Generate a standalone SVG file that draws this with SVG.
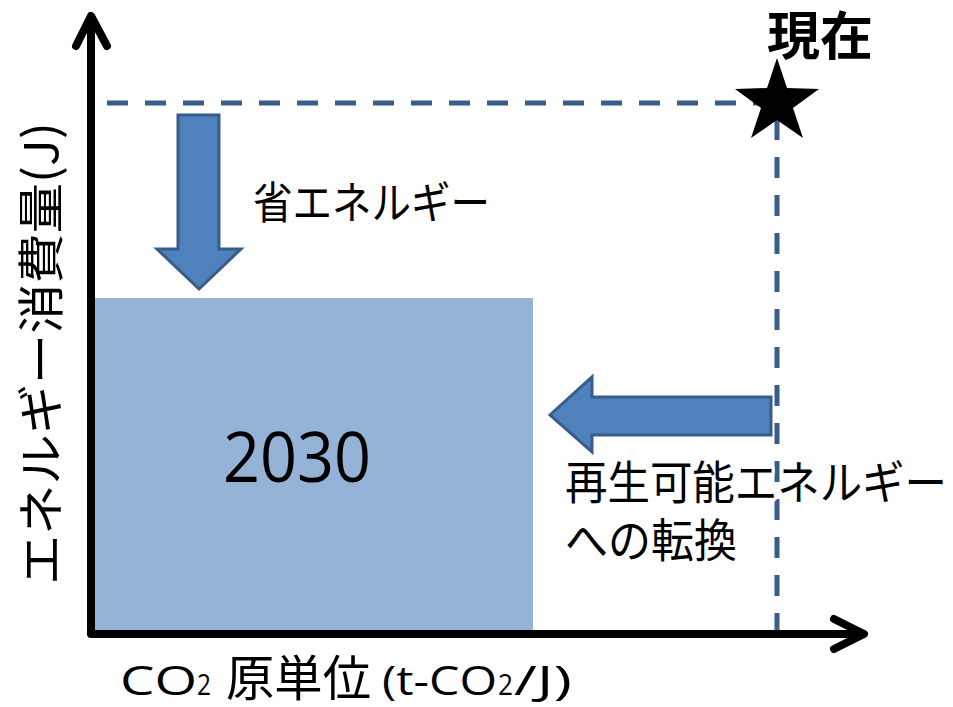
<svg xmlns="http://www.w3.org/2000/svg" width="953" height="707" viewBox="0 0 953 707">
  <style>
    .jp { font-family: "Noto Sans CJK JP", "Noto Sans", sans-serif; fill: #000; }
    .lat { font-family: "Open Sans", "Noto Sans", sans-serif; fill: #000; }
    .axis { stroke: #000; stroke-width: 8; fill: none; stroke-linecap: round; stroke-linejoin: round; }
    .dash { stroke: #385D8A; stroke-width: 5; fill: none; stroke-dasharray: 21 17; }
    .barrow { fill: #4F81BD; stroke: #385D8A; stroke-width: 3; stroke-linejoin: miter; }
    .halo { stroke: #fff; stroke-width: 7; stroke-opacity: 0.85; paint-order: stroke; stroke-linejoin: round; }
  </style>
  <rect width="953" height="707" fill="#fff"/>

  <g id="box-2030">
    <rect x="95" y="298" width="438" height="332" fill="#95B3D7"/>
    <text class="lat" x="297" y="482" font-size="70" text-anchor="middle" textLength="148" lengthAdjust="spacingAndGlyphs">2030</text>
  </g>

  <g id="connectors">
    <line class="dash" x1="107" y1="103" x2="777" y2="103"/>
    <line class="dash" x1="777" y1="119" x2="777" y2="633"/>
  </g>

  <g id="axes">
    <line class="axis" x1="91" y1="633" x2="91" y2="17"/>
    <polyline class="axis" points="76,46 91,16 107,46"/>
    <line class="axis" x1="91" y1="634" x2="863" y2="634"/>
    <polyline class="axis" points="834,619 864,634 834,649"/>
  </g>

  <g id="now-star">
    <polygon fill="#000" points="777,58 787,88 819,89 793,108 803,138 777,120 751,138 761,108 735,89 767,88"/>
    <text class="jp" x="820" y="55" font-size="52" font-weight="bold" text-anchor="middle" textLength="106" lengthAdjust="spacingAndGlyphs">現在</text>
  </g>

  <g id="energy-saving">
    <polygon class="barrow" points="178,115 219,115 219,249 241,249 199,289 157,249 178,249"/>
    <text class="jp" x="253" y="219" font-size="44" textLength="237" lengthAdjust="spacingAndGlyphs">省エネルギー</text>
  </g>

  <g id="renewable-shift">
    <polygon class="barrow" points="771,397 592,397 592,377 550,415 592,452 592,435 771,435"/>
    <text class="jp halo" x="565" y="499" font-size="46" textLength="382" lengthAdjust="spacingAndGlyphs">再生可能エネルギー</text>
    <text class="jp halo" x="565" y="557" font-size="46" textLength="172" lengthAdjust="spacingAndGlyphs">への転換</text>
  </g>

  <g id="y-label">
    <text class="jp" transform="translate(58,585) rotate(-90)" x="0" y="0" font-size="47" textLength="463" lengthAdjust="spacingAndGlyphs">エネルギー消費量(J)</text>
  </g>

  <g id="x-label">
    <text class="lat" x="120" y="695" font-size="41" textLength="77" lengthAdjust="spacingAndGlyphs">CO</text>
    <text class="lat" x="197" y="695" font-size="29" textLength="14" lengthAdjust="spacingAndGlyphs">2</text>
    <text class="jp" x="226" y="696" font-size="49" textLength="145" lengthAdjust="spacingAndGlyphs">原単位</text>
    <text class="lat" x="382" y="695" font-size="41" textLength="115" lengthAdjust="spacingAndGlyphs">(t-CO</text>
    <text class="lat" x="498" y="695" font-size="29" textLength="15" lengthAdjust="spacingAndGlyphs">2</text>
    <text class="lat" x="514" y="695" font-size="41" textLength="58" lengthAdjust="spacingAndGlyphs">/J)</text>
  </g>
</svg>
